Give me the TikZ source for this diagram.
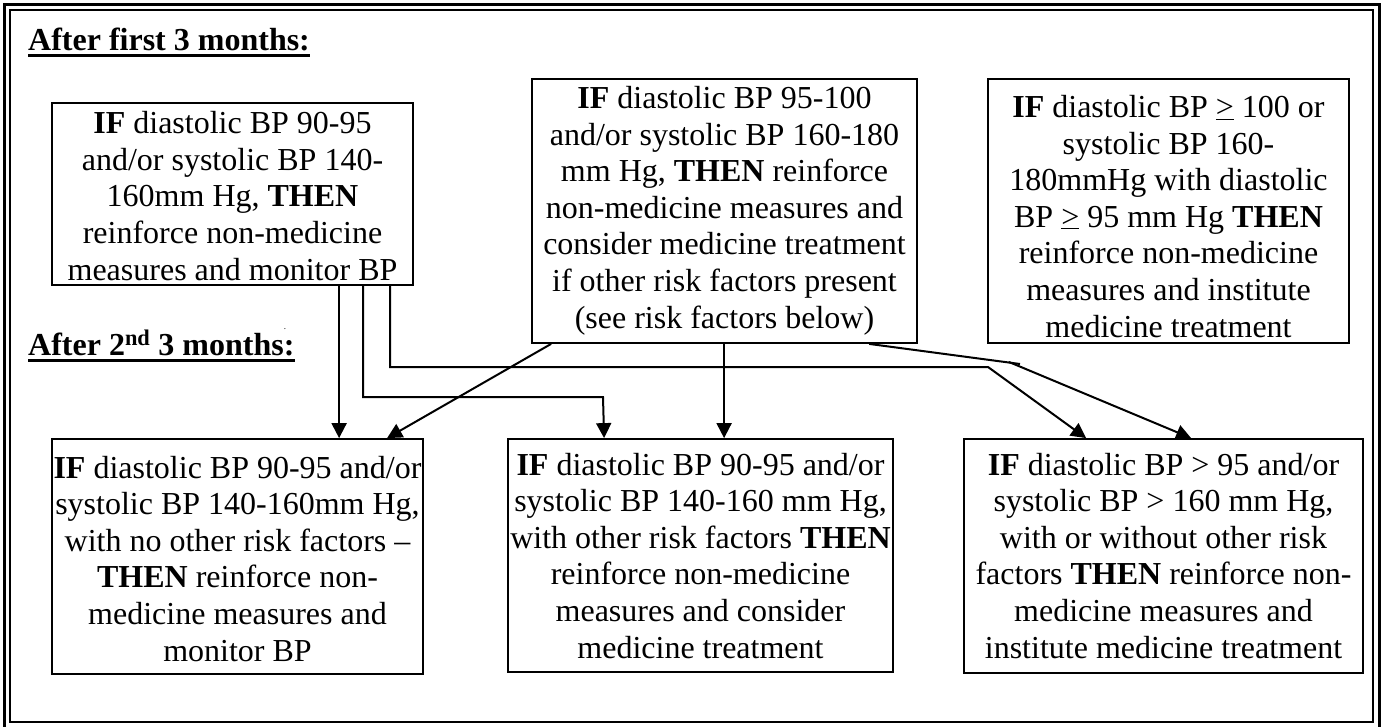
\documentclass[tikz,border=0pt]{standalone}
\usepackage{fontspec}
\setmainfont{Liberation Serif}
\usetikzlibrary{arrows.meta}
\begin{document}
\begin{tikzpicture}[x=1pt,y=-1pt,
  box/.style={draw, line width=1.8pt, inner sep=0pt},
  txt/.style={align=center, inner sep=0pt, anchor=base, font=\fontsize{32}{36.6}\selectfont},
  head/.style={inner sep=0pt, anchor=base west, font=\fontsize{32}{36.6}\selectfont\bfseries},
  conn/.style={line width=2pt},
  arr/.style={line width=2pt, -{Triangle[length=15pt,width=15pt]}}]
\useasboundingbox (0,0) rectangle (1386,726);
% outer double frame
\draw[line width=3pt] (4,4) rectangle (1379,729);
\draw[line width=1.5pt] (10,10) rectangle (1373,722);
% headings
\node[head] (h1) at (28,50) {After first 3 months:};
\draw[line width=3pt] ([yshift=-5.5pt]h1.base west) -- ([yshift=-5.5pt]h1.base east);
\node[head] (h2) at (28,355) {After 2\textsuperscript{nd} 3 months:};
\draw[line width=3pt] ([yshift=-5.5pt]h2.base west) -- ([yshift=-5.5pt]h2.base east);
\node[inner sep=0pt, font=\fontsize{9}{9}\selectfont] (stray) at (285,329) {.};
% boxes
\node[box, minimum width=361pt, minimum height=182pt] (A) at (232.5,194) {};
\node[box, minimum width=385pt, minimum height=264pt] (B) at (724.5,211) {};
\node[box, minimum width=361pt, minimum height=264pt] (C) at (1168.5,211) {};
\node[box, minimum width=371pt, minimum height=235pt] (D) at (237.5,556.5) {};
\node[box, minimum width=385pt, minimum height=233pt] (E) at (700.5,555.5) {};
\node[box, minimum width=399pt, minimum height=234pt] (F) at (1163.5,556) {};
% texts (anchored at the baseline of their last line)
\node[txt] (tA) at (232.5,280) {\textbf{IF} diastolic BP 90-95\\and/or systolic BP 140-\\160mm Hg, \textbf{THEN}\\reinforce non-medicine\\measures and monitor BP};
\node[txt] (tB) at (724.5,328) {\textbf{IF} diastolic BP 95-100\\and/or systolic BP 160-180\\mm Hg, \textbf{THEN} reinforce\\non-medicine measures and\\consider medicine treatment\\if other risk factors present\\(see risk factors below)};
\node[txt] (tC) at (1168.5,337) {\textbf{IF} diastolic BP \underline{>} 100 or\\systolic BP 160-\\180mmHg with diastolic\\BP \underline{>} 95 mm Hg \textbf{THEN}\\reinforce non-medicine\\measures and institute\\medicine treatment};
\node[txt] (tD) at (237.5,661) {\textbf{IF} diastolic BP 90-95 and/or\\systolic BP 140-160mm Hg,\\with no other risk factors \textendash\\\textbf{THEN} reinforce non-\\medicine measures and\\monitor BP};
\node[txt] (tE) at (700.5,658) {\textbf{IF} diastolic BP 90-95 and/or\\systolic BP 140-160 mm Hg,\\with other risk factors \textbf{THEN}\\reinforce non-medicine\\measures and consider\\medicine treatment};
\node[txt] (tF) at (1163.5,658) {\textbf{IF} diastolic BP > 95 and/or\\systolic BP > 160 mm Hg,\\with or without other risk\\factors \textbf{THEN} reinforce non-\\medicine measures and\\institute medicine treatment};
% bend points
\coordinate (k2) at (603,397);
\coordinate (k3) at (988,367);
\coordinate (k6a) at (1020,364);
\coordinate (k6b) at (1009,362);
% connectors
\draw[arr] ([xshift=288pt]A.south west) -- ([xshift=288pt]D.north west);
\draw[arr] ([xshift=312pt]A.south west) |- (k2) -- ([xshift=97pt]E.north west);
\draw[arr] ([xshift=339pt]A.south west) |- (k3) -- ([xshift=123pt]F.north west);
\draw[arr] ([xshift=193pt]B.south west) -- ([xshift=217pt]E.north west);
\draw[arr] ([xshift=20pt]B.south west) -- ([xshift=336pt]D.north west);
\draw[conn] ([xshift=338pt]B.south west) -- (k6a);
\draw[arr] (k6b) -- ([xshift=228pt]F.north west);
\end{tikzpicture}
\end{document}
